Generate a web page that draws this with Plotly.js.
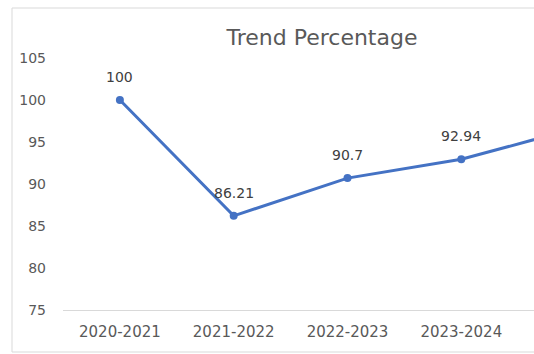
<!DOCTYPE html>
<html>
<head>
<meta charset="utf-8">
<script src="https://cdn.plot.ly/plotly-3.0.1.min.js"></script>
<style>
html, body { margin: 0; padding: 0; overflow: hidden; background: #ffffff; }
#chart { width: 660px; height: 354px; }
</style>
</head>
<body>
<div id="chart"></div>
<script>
const categories = ["2020-2021", "2021-2022", "2022-2023", "2023-2024", "2024-2025"];
const trendValues = [100, 86.21, 90.7, 92.94, 96.6];
const valueLabels = ["100", "86.21", "90.7", "92.94", "96.6"];
const yTicks = [75, 80, 85, 90, 95, 100, 105];

const trace = {
  type: "scatter",
  mode: "lines+markers",
  x: categories,
  y: trendValues,
  line: { color: "#4472C4", width: 3 },
  marker: { color: "#4472C4", size: 8 },
  cliponaxis: false,
  hoverinfo: "skip"
};

const labelAnnotations = categories.map((c, i) => ({
  x: c,
  y: trendValues[i],
  xref: "x",
  yref: "y",
  text: valueLabels[i],
  showarrow: false,
  xanchor: "center",
  yanchor: "middle",
  yshift: 23,
  font: { family: "DejaVu Sans", size: 14, color: "#404040" }
}));

const layout = {
  width: 660,
  height: 354,
  margin: { l: 63, r: 28, t: 58, b: 44 },
  paper_bgcolor: "#ffffff",
  plot_bgcolor: "#ffffff",
  showlegend: false,
  title: {
    text: "Trend Percentage",
    font: { family: "DejaVu Sans", size: 22, color: "#595959" },
    x: 322 / 660,
    xref: "container",
    xanchor: "center",
    y: 1 - 37 / 354,
    yref: "container",
    yanchor: "middle"
  },
  xaxis: {
    type: "category",
    showgrid: false,
    zeroline: false,
    showline: true,
    linecolor: "#d9d9d9",
    linewidth: 1,
    ticks: "",
    ticklabelstandoff: 8,
    tickfont: { family: "DejaVu Sans", size: 15, color: "#595959" },
    range: [-0.5, 4.5]
  },
  yaxis: {
    range: [75, 105],
    tickvals: yTicks,
    showgrid: false,
    zeroline: false,
    showline: false,
    ticks: "",
    ticklabelstandoff: 16,
    tickfont: { family: "DejaVu Sans", size: 14, color: "#595959" }
  },
  annotations: labelAnnotations,
  shapes: [{
    type: "rect",
    xref: "paper", yref: "paper",
    x0: (12 - 63) / 569, x1: 1.2,
    y0: (310 - 352) / 252, y1: (310 - 8) / 252,
    line: { color: "#d9d9d9", width: 1 },
    fillcolor: "rgba(0,0,0,0)",
    layer: "below"
  }]
};

Plotly.newPlot("chart", [trace], layout, { displayModeBar: false, staticPlot: true });
</script>
</body>
</html>
